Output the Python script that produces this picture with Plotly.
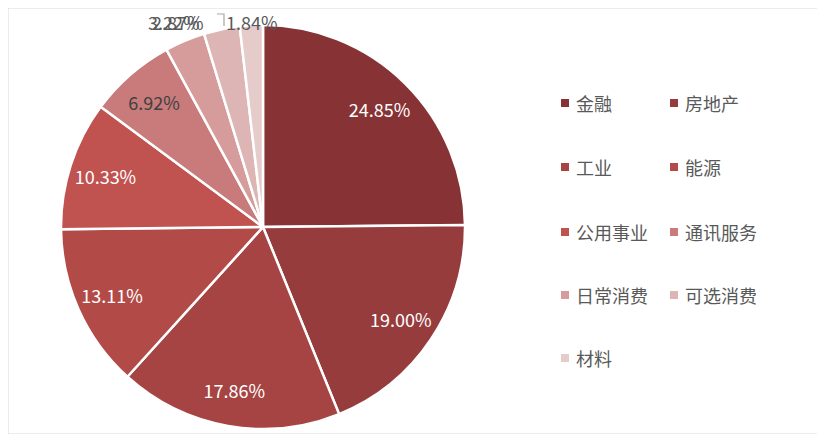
import plotly.graph_objects as go

# sector weights (%)
sectors = ["金融", "房地产", "工业", "能源", "公用事业", "通讯服务", "日常消费", "可选消费", "材料"]
weights = [24.85, 19.00, 17.86, 13.11, 10.33, 6.92, 3.22, 2.87, 1.84]
colors = ["#873336", "#973c3d", "#a64443", "#b24b48", "#c0524f",
          "#c97b7b", "#d59c9b", "#ddb5b5", "#e6cbcb"]

# page body has an 8px margin, so the figure is a bit smaller than the window
W, H = 817, 426
FONT = "Noto Sans CJK SC, Microsoft YaHei, sans-serif"

n_inside = 6
labels_txt = ["%.2f%%" % v for v in weights]
text_pos = ["inside"] * n_inside + ["none"] * (len(weights) - n_inside)
text_col = ["white"] * 5 + ["#404040"] * 4

pie_dom = dict(x=[53 / W, 457 / W], y=[5 / H, 409 / H])

fig = go.Figure()
# the slices
fig.add_trace(
    go.Pie(
        labels=sectors,
        values=weights,
        textinfo="none",
        sort=False,
        direction="clockwise",
        rotation=0,
        marker=dict(colors=colors, line=dict(color="white", width=2.5)),
        domain=pie_dom,
        showlegend=False,
        hoverinfo="label+percent",
        automargin=False,
    )
)
# transparent ring on top, only to push the labels towards the rim
fig.add_trace(
    go.Pie(
        labels=sectors,
        values=weights,
        hole=0.64,
        text=labels_txt,
        textinfo="text",
        textposition=text_pos,
        insidetextorientation="horizontal",
        textfont=dict(family=FONT, size=18, color=text_col),
        sort=False,
        direction="clockwise",
        rotation=0,
        marker=dict(colors=["rgba(0,0,0,0)"] * len(sectors), line=dict(width=0)),
        domain=pie_dom,
        showlegend=False,
        hoverinfo="skip",
        automargin=False,
    )
)

shapes = []
annotations = []

# small slices: labels sit in a row above the pie (they overlap, as in the source)
small_x = [166, 170, 244]
for j, i in enumerate(range(n_inside, len(weights))):
    annotations.append(dict(
        x=small_x[j] / W, y=1, xref="paper", yref="paper",
        text=labels_txt[i], showarrow=False, xanchor="center", yanchor="top",
        borderpad=0,
        font=dict(family=FONT, size=18, color="#595959"),
    ))
# leader line for 可选消费
shapes.append(dict(type="path", xref="paper", yref="paper",
                   path="M %f,%f L %f,%f L %f,%f" % (216 / W, 1 - 18 / H, 216 / W, 1 - 6 / H,
                                                     209 / W, 1 - 6 / H),
                   line=dict(color="#a6a6a6", width=1.2)))

# legend drawn by hand: two columns, wide row spacing
col_x = [553, 662]
row_y = [95, 159, 224, 287, 350]
for i, name in enumerate(sectors):
    cx = col_x[i % 2]
    cy = row_y[i // 2]
    shapes.append(dict(
        type="rect", xref="paper", yref="paper",
        x0=cx / W, x1=(cx + 8) / W,
        y0=1 - (cy + 4) / H, y1=1 - (cy - 4) / H,
        fillcolor=colors[i], line=dict(width=0),
    ))
    annotations.append(dict(
        x=(cx + 13) / W, y=1 - cy / H, xref="paper", yref="paper",
        text=name, showarrow=False, xanchor="left", yanchor="middle",
        font=dict(family=FONT, size=18, color="#595959"),
    ))

# outer frame
shapes.append(dict(type="rect", xref="paper", yref="paper", x0=0, x1=1, y0=0, y1=1,
                   line=dict(color="#d9d9d9", width=1)))

fig.update_layout(
    width=W, height=H,
    margin=dict(l=0, r=0, t=0, b=0, autoexpand=False),
    paper_bgcolor="white",
    plot_bgcolor="white",
    shapes=shapes,
    annotations=annotations,
)

fig.write_html("out.html")
